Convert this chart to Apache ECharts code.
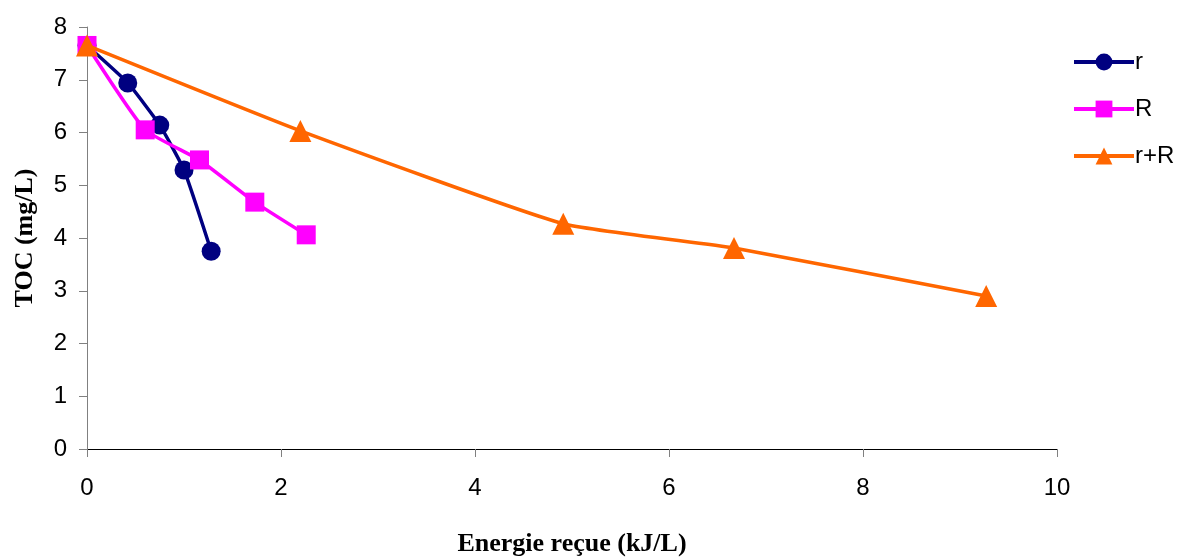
<!DOCTYPE html>
<html>
<head>
<meta charset="utf-8">
<script src="https://cdn.jsdelivr.net/npm/echarts@6/dist/echarts.min.js"></script>
<style>html,body{margin:0;padding:0;background:#fff;}#c{width:1179px;height:557px;}</style>
</head>
<body>
<div id="c"></div>
<script>
// Data
const rX = [0, 0.42, 0.75, 1.0, 1.28];
const rY = [7.65, 6.94, 6.14, 5.29, 3.75];
const RX = [0, 0.60, 1.16, 1.73, 2.26];
const RY = [7.65, 6.05, 5.48, 4.68, 4.06];
const rRX = [0, 2.20, 4.91, 6.67, 9.27];
const rRY = [7.65, 6.03, 4.27, 3.81, 2.90];
const seriesNames = ['r', 'R', 'r+R'];
const xTitle = 'Energie reçue (kJ/L)';
const yTitle = 'TOC (mg/L)';

const zip = (a, b) => a.map((v, i) => [v, b[i]]);
const chart = echarts.init(document.getElementById('c'));
const colors = ['#000080', '#FF00FF', '#FF6600'];
const symbols = ['circle', 'rect', 'triangle'];
const sizes = [19, 19, 22];
const datas = [zip(rX, rY), zip(RX, RY), zip(rRX, rRY)];

chart.setOption({
  animation: false,
  backgroundColor: '#fff',
  grid: { left: 87, right: 122, top: 27, bottom: 108, containLabel: false, outerBoundsMode: 'none' },
  legend: {
    orient: 'vertical', left: 1067, top: 45, itemWidth: 60, itemHeight: 21, itemGap: 23,
    textStyle: { fontFamily: 'Liberation Sans', fontSize: 24, color: '#000', padding: [0, 0, 0, -4] },
    lineStyle: { width: 4 },
    data: seriesNames
  },
  xAxis: {
    type: 'value', min: 0, max: 10, interval: 2,
    name: xTitle, nameLocation: 'middle', nameGap: 82,
    nameTextStyle: { fontFamily: 'Liberation Serif', fontWeight: 'bold', fontSize: 26, color: '#000' },
    axisLine: { show: true, lineStyle: { color: '#000', width: 1 } },
    axisTick: { show: true, length: 8, lineStyle: { color: '#808080' } },
    axisLabel: { margin: 27, fontFamily: 'Liberation Sans', fontSize: 24, color: '#000' },
    splitLine: { show: false }
  },
  yAxis: {
    type: 'value', min: 0, max: 8, interval: 1,
    name: yTitle, nameLocation: 'middle', nameGap: 49,
    nameTextStyle: { fontFamily: 'Liberation Serif', fontWeight: 'bold', fontSize: 26, color: '#000' },
    axisLine: { show: true, lineStyle: { color: '#808080', width: 1 } },
    axisTick: { show: true, length: 8, lineStyle: { color: '#808080' } },
    axisLabel: { margin: 20, fontFamily: 'Liberation Sans', fontSize: 24, color: '#000' },
    splitLine: { show: false }
  },
  series: seriesNames.map((n, i) => ({
    name: n, type: 'line', data: datas[i], smooth: 0.15,
    symbol: symbols[i], symbolSize: sizes[i], showAllSymbol: true,
    itemStyle: { color: colors[i] },
    lineStyle: { color: colors[i], width: 3.5 },
    z: 2 + i
  }))
});
</script>
</body>
</html>
